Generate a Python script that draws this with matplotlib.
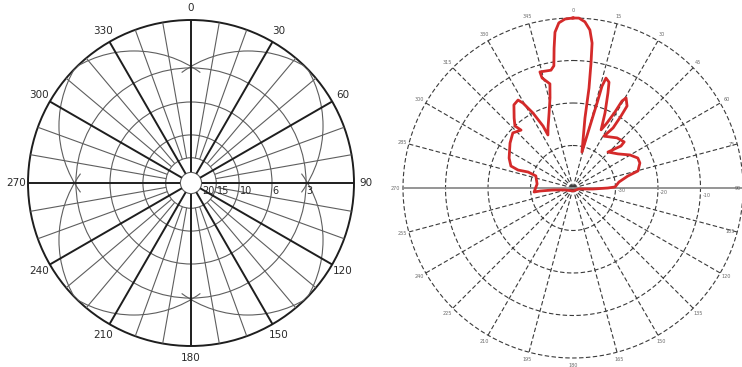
import numpy as np
import matplotlib
matplotlib.use("Agg")
import matplotlib.pyplot as plt
from matplotlib.patches import Circle, Arc


# left chart: dB rings and the fraction of the outer radius they sit at
ring_db = [3, 6, 10, 15, 20]
ring_frac = [0.706, 0.497, 0.295, 0.155, 0.065]
bearing_labels = list(range(0, 360, 30))

# right chart: grid levels (dB) and the measured pattern
grid_db = [-30, -20, -10, 0]
grid_labels = ["-30", "-20", "-10"]
compass_labels = list(range(0, 360, 15))

# bearing (deg, clockwise from north), level (dB)
pattern_deg = [0, -2.7, -4.9, -6.6, -7.7, -8.9, -10.6, -15.9, -15.7, -12.5,
               -14.3, -17.7, -22.6, -25.3, -25.8, -28.1, -30.5, -32.0, -35.4,
               -40.1, -43.1, -41.9, -47.5, -54.5, -64.9, -70.5, -71.9, -70.4,
               -72.0, -83.7, -95.9, -95.2, -95.7, -104, -180,
               99.5, 92.9, 90.0, 88.6, 82.6, 77.7, 75.3, 69.5, 65.2, 59.9,
               52.9, 44.2, 48.8, 48.0, 41.3, 30.8, 33.7, 33.7, 33.4, 30.5,
               29.4, 28.9, 27.6, 25.8, 23.1, 20.2, 18.8, 16.7, 15.9, 15.8,
               15.3, 14.0, 9.7, 9.1, 8.2, 7.5, 6.1, 4.1, 2.0, 0]
pattern_db = [0.0, -0.2, -1.0, -3.1, -6.8, -10.9, -11.8, -11.6, -13.1, -14.9,
              -18.1, -21.5, -24.7, -26.2, -23.8, -20.0, -16.8, -15.6, -16.0,
              -18.5, -20.0, -21.7, -20.8, -21.8, -23.4, -24.5, -26.4, -28.8,
              -30.8, -31.5, -30.8, -32.2, -35.3, -38.1, -39.3,
              -38.6, -35.3, -31.8, -30.1, -29.1, -26.8, -24.2, -23.2, -23.2, -24.5,
              -26.7, -28.2, -25.0, -23.8, -24.3, -25.8, -23.0, -19.6, -16.9, -15.4,
              -16.5, -19.6, -22.7, -24.8, -20.8, -16.2, -13.7, -13.0, -15.1, -19.2,
              -24.9, -31.3, -23.3, -16.2, -10.3, -5.6, -2.6, -0.8, 0.0, 0.0]

W, H = 742, 367
fig = plt.figure(figsize=(W / 100, H / 100), dpi=100)
fig.patch.set_facecolor("white")

label_font = ["Liberation Sans Narrow", "DejaVu Sans"]

# ---------------- left: blank pattern paper ----------------
axL = fig.add_axes([8 / W, 1 / H, 366 / W, 366 / H])
lim = 183 / 163
axL.set_xlim(-lim, lim)
axL.set_ylim(-lim, lim)
axL.axis("off")

thin_c, thick_c = "#5e5e5e", "#1e1e1e"

for b in range(0, 360, 10):
    a = np.deg2rad(b)
    s, c = np.sin(a), np.cos(a)
    if b % 30 == 0:
        r0 = ring_frac[-1]
        axL.plot([r0 * s, s], [r0 * c, c], color=thick_c, lw=1.4,
                 solid_capstyle="butt")
    else:
        r0 = ring_frac[-2]
        axL.plot([r0 * s, s], [r0 * c, c], color=thin_c, lw=0.8,
                 solid_capstyle="butt")

for r in ring_frac:
    axL.add_patch(Circle((0, 0), r, fill=False, ec=thin_c, lw=0.8))

outer = Circle((0, 0), 1.0, fill=False, ec=thick_c, lw=1.4)
axL.add_patch(outer)

# bulging arcs between the 3 dB ring and the rim
rho, off_u, off_v = 0.693, 0.117, 0.35
for phi in (90, 0, 270, 180):
    p = np.deg2rad(phi)
    u = np.array([np.cos(p), np.sin(p)])
    v = np.array([-np.sin(p), np.cos(p)])
    for sgn in (-1, 1):
        cen = off_u * u + sgn * off_v * v
        arc = Arc(cen, 2 * rho, 2 * rho, theta1=phi - 36, theta2=phi + 36,
                  ec=thin_c, lw=0.8)
        axL.add_patch(arc)
        arc.set_clip_path(outer)

for b in bearing_labels:
    a = np.deg2rad(b)
    axL.text(1.075 * np.sin(a), 1.075 * np.cos(a), str(b), fontsize=7.5,
             family=label_font, color="#2a2a2a", ha="center", va="center")

for d, r in zip(ring_db, ring_frac):
    axL.text(r + 0.004, -0.05, str(d), fontsize=7, family=label_font,
             color="#2a2a2a", ha="left", va="center")

# ---------------- right: measured pattern ----------------
axR = fig.add_axes([403 / W, 9 / H, 340 / W, 340 / H], projection="polar")
axR.set_theta_zero_location("N")
axR.set_theta_direction(-1)
axR.set_ylim(-40, 0)
axR.grid(False)
axR.set_xticks([])
axR.set_yticks([])
axR.spines["polar"].set_visible(False)
axR.patch.set_alpha(0)

dash = (0, (4, 2.2))
ring_th = np.linspace(0, 2 * np.pi, 721)
for lev in grid_db:
    axR.plot(ring_th, np.full_like(ring_th, lev), color="#3a3a3a", lw=0.8,
             ls=dash, clip_on=False)

for b in range(15, 360, 15):
    if b in (90, 180, 270):
        continue
    a = np.deg2rad(b)
    axR.plot([a, a], [-40, 0], color="#3a3a3a", lw=0.8, ls=dash)

for b in (90, 270):
    a = np.deg2rad(b)
    axR.plot([a, a], [-40, 0], color="#8c8c8c", lw=1.3, clip_on=False)

for b in compass_labels:
    if 60 < b < 120:
        # right rim touches the picture edge: keep these inside
        axR.text(np.deg2rad(b), -0.6, str(b), fontsize=3.5, color="#6a6a6a",
                 ha="right", va="center", clip_on=False)
    else:
        axR.text(np.deg2rad(b), 1.7, str(b), fontsize=3.5, color="#6a6a6a",
                 ha="center", va="center", clip_on=False)

for lev, lab in zip(grid_db[:3], grid_labels):
    axR.text(np.deg2rad(93), lev + 1.5, lab, fontsize=3.5, color="#6a6a6a",
             ha="center", va="center")

axR.plot(np.deg2rad(pattern_deg), pattern_db, color="#d42a2a", lw=2.0,
         clip_on=False, zorder=5)

fig.savefig("out.png", dpi=100)
